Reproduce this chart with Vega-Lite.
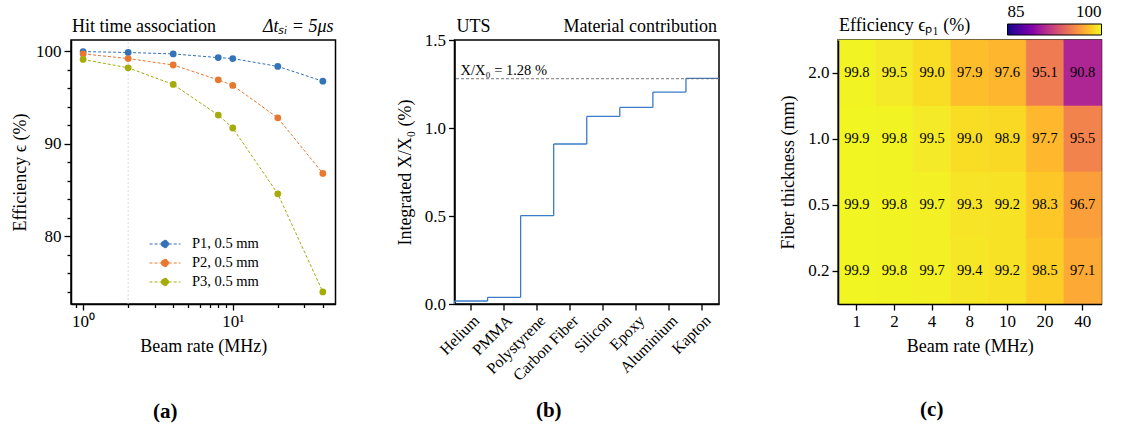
{
  "$schema": "https://vega.github.io/schema/vega-lite/v6.json",
  "background": "white",
  "padding": {"left": 10, "top": 16, "right": 5, "bottom": 2},
  "bounds": "flush",
  "spacing": 118.5,
  "resolve": {"scale": {"color": "independent"}, "legend": {"color": "independent"}},
  "config": {
    "font": "Liberation Serif",
    "view": {"stroke": "black", "strokeWidth": 1.5},
    "axis": {
      "grid": false, "domainColor": "black", "domainWidth": 1.5,
      "tickColor": "black", "tickWidth": 1.3, "tickSize": 6,
      "labelColor": "black", "titleColor": "black",
      "labelFont": "Liberation Serif", "titleFont": "Liberation Serif",
      "labelFontSize": 17, "titleFontSize": 18, "titleFontWeight": "normal",
      "labelPadding": 3, "labelFlush": false, "labelOverlap": false
    },
    "legend": {"labelFont": "Liberation Serif", "labelColor": "black"},
    "title": {"font": "Liberation Serif", "fontSize": 21, "fontWeight": "bold", "color": "black"},
    "text": {"font": "Liberation Serif", "color": "black"}
  },
  "datasets": {
    "eff": [
      {"rate": 1, "eff": 99.95, "series": "P1, 0.5 mm"},
      {"rate": 2, "eff": 99.85, "series": "P1, 0.5 mm"},
      {"rate": 4, "eff": 99.7, "series": "P1, 0.5 mm"},
      {"rate": 8, "eff": 99.3, "series": "P1, 0.5 mm"},
      {"rate": 10, "eff": 99.2, "series": "P1, 0.5 mm"},
      {"rate": 20, "eff": 98.35, "series": "P1, 0.5 mm"},
      {"rate": 40, "eff": 96.75, "series": "P1, 0.5 mm"},
      {"rate": 1, "eff": 99.7, "series": "P2, 0.5 mm"},
      {"rate": 2, "eff": 99.2, "series": "P2, 0.5 mm"},
      {"rate": 4, "eff": 98.5, "series": "P2, 0.5 mm"},
      {"rate": 8, "eff": 96.9, "series": "P2, 0.5 mm"},
      {"rate": 10, "eff": 96.3, "series": "P2, 0.5 mm"},
      {"rate": 20, "eff": 92.8, "series": "P2, 0.5 mm"},
      {"rate": 40, "eff": 86.8, "series": "P2, 0.5 mm"},
      {"rate": 1, "eff": 99.1, "series": "P3, 0.5 mm"},
      {"rate": 2, "eff": 98.2, "series": "P3, 0.5 mm"},
      {"rate": 4, "eff": 96.4, "series": "P3, 0.5 mm"},
      {"rate": 8, "eff": 93.1, "series": "P3, 0.5 mm"},
      {"rate": 10, "eff": 91.7, "series": "P3, 0.5 mm"},
      {"rate": 20, "eff": 84.6, "series": "P3, 0.5 mm"},
      {"rate": 40, "eff": 74.0, "series": "P3, 0.5 mm"}
    ],
    "xx0": [
      {"material": "Helium", "cum": 0.017, "prev": 0},
      {"material": "PMMA", "cum": 0.038, "prev": 0.017},
      {"material": "Polystyrene", "cum": 0.502, "prev": 0.038},
      {"material": "Carbon Fiber", "cum": 0.909, "prev": 0.502},
      {"material": "Silicon", "cum": 1.066, "prev": 0.909},
      {"material": "Epoxy", "cum": 1.117, "prev": 1.066},
      {"material": "Aluminium", "cum": 1.204, "prev": 1.117},
      {"material": "Kapton", "cum": 1.282, "prev": 1.204}
    ],
    "heat": [
      {"rate": 1, "thickness": "2.0", "eff": 99.8},
      {"rate": 2, "thickness": "2.0", "eff": 99.5},
      {"rate": 4, "thickness": "2.0", "eff": 99.0},
      {"rate": 8, "thickness": "2.0", "eff": 97.9},
      {"rate": 10, "thickness": "2.0", "eff": 97.6},
      {"rate": 20, "thickness": "2.0", "eff": 95.1},
      {"rate": 40, "thickness": "2.0", "eff": 90.8},
      {"rate": 1, "thickness": "1.0", "eff": 99.9},
      {"rate": 2, "thickness": "1.0", "eff": 99.8},
      {"rate": 4, "thickness": "1.0", "eff": 99.5},
      {"rate": 8, "thickness": "1.0", "eff": 99.0},
      {"rate": 10, "thickness": "1.0", "eff": 98.9},
      {"rate": 20, "thickness": "1.0", "eff": 97.7},
      {"rate": 40, "thickness": "1.0", "eff": 95.5},
      {"rate": 1, "thickness": "0.5", "eff": 99.9},
      {"rate": 2, "thickness": "0.5", "eff": 99.8},
      {"rate": 4, "thickness": "0.5", "eff": 99.7},
      {"rate": 8, "thickness": "0.5", "eff": 99.3},
      {"rate": 10, "thickness": "0.5", "eff": 99.2},
      {"rate": 20, "thickness": "0.5", "eff": 98.3},
      {"rate": 40, "thickness": "0.5", "eff": 96.7},
      {"rate": 1, "thickness": "0.2", "eff": 99.9},
      {"rate": 2, "thickness": "0.2", "eff": 99.8},
      {"rate": 4, "thickness": "0.2", "eff": 99.7},
      {"rate": 8, "thickness": "0.2", "eff": 99.4},
      {"rate": 10, "thickness": "0.2", "eff": 99.2},
      {"rate": 20, "thickness": "0.2", "eff": 98.5},
      {"rate": 40, "thickness": "0.2", "eff": 97.1}
    ]
  },
  "hconcat": [
    {
      "width": 264.5, "height": 264,
      "title": {"text": "(a)", "orient": "bottom", "anchor": "middle", "frame": "group", "dx": -38, "offset": 46},
      "encoding": {
        "x": {"field": "rate", "type": "quantitative",
          "scale": {"type": "log", "domain": [0.83, 48.6], "nice": false},
          "axis": {"title": "Beam rate (MHz)", "titlePadding": 8, "labelOverlap": false,
            "values": [0.9, 1, 2, 3, 4, 5, 6, 7, 8, 9, 10, 20, 30, 40],
            "labelExpr": "datum.value == 1 ? '10⁰' : (datum.value == 10 ? '10¹' : '')",
            "tickSize": {"condition": {"test": "datum.value == 1 || datum.value == 10", "value": 6}, "value": 3.5}}},
        "y": {"field": "eff", "type": "quantitative",
          "scale": {"domain": [72.7, 101.2], "nice": false, "zero": false},
          "axis": {"title": "Efficiency ϵ (%)", "titlePadding": 6, "labelOverlap": false,
            "values": [74, 76, 78, 80, 82, 84, 86, 88, 90, 92, 94, 96, 98, 100],
            "labelExpr": "(datum.value == 80 || datum.value == 90 || datum.value == 100) ? datum.label : ''",
            "tickSize": {"condition": {"test": "datum.value == 80 || datum.value == 90 || datum.value == 100", "value": 7}, "value": 4}}}
      },
      "layer": [
        {
          "data": {"values": [{"rate": 2, "eff": 72.7, "eff2": 101.2}]},
          "mark": {"type": "rule", "color": "#cfcfcf", "strokeWidth": 0.8, "strokeDash": [2, 2]},
          "encoding": {"y2": {"field": "eff2"}}
        },
        {
          "data": {"name": "eff"},
          "mark": {"type": "line", "strokeWidth": 1, "strokeDash": [3, 2]},
          "encoding": {
            "color": {"field": "series", "type": "nominal",
              "scale": {"domain": ["P1, 0.5 mm", "P2, 0.5 mm", "P3, 0.5 mm"], "range": ["#3473b7", "#e87730", "#a4ab0a"]},
              "legend": {"orient": "none", "legendX": 83, "legendY": 193, "title": null, "padding": 0,
                "labelFontSize": 14.5, "labelOffset": 16, "rowPadding": 1,
                "symbolType": "M-1.5,0H-0.36M0.36,0H1.5M-0.36,0A0.36,0.36,0,1,0,0.36,0A0.36,0.36,0,1,0,-0.36,0",
                "symbolSize": 425, "symbolStrokeWidth": 1, "symbolDash": [3, 2]}}
          }
        },
        {
          "data": {"name": "eff"},
          "mark": {"type": "point", "filled": true, "size": 46, "opacity": 1},
          "encoding": {"color": {"field": "series", "type": "nominal"}}
        },
        {
          "data": {"values": [{"note": "Hit time association", "rate": 0.83, "eff": 101.2}]},
          "mark": {"type": "text", "align": "left", "baseline": "alphabetic", "dx": 1, "dy": -8, "fontSize": 18},
          "encoding": {"text": {"field": "note"}}
        },
        {
          "data": {"values": [{"note": "Δtₛᵢ = 5μs", "rate": 48.6, "eff": 101.2}]},
          "mark": {"type": "text", "align": "right", "baseline": "alphabetic", "dy": -8, "dx": -2, "fontSize": 18, "fontStyle": "italic"},
          "encoding": {"text": {"field": "note"}}
        }
      ]
    },
    {
      "width": 264.5, "height": 264,
      "title": {"text": "(b)", "orient": "bottom", "anchor": "middle", "frame": "group", "dx": -38, "offset": 17},
      "layer": [
        {
          "data": {"name": "xx0"},
          "mark": {"type": "bar", "fill": "transparent", "stroke": "#3a7cc7", "strokeWidth": 1.3},
          "encoding": {
            "x": {"field": "material", "type": "nominal",
              "sort": ["Helium", "PMMA", "Polystyrene", "Carbon Fiber", "Silicon", "Epoxy", "Aluminium", "Kapton"],
              "scale": {"paddingInner": 0, "paddingOuter": 0},
              "axis": {"title": null, "labelAngle": -45, "labelFontSize": 16, "labelPadding": 2}},
            "y": {"field": "cum", "type": "quantitative",
              "scale": {"domain": [0, 1.5], "nice": false},
              "axis": {"title": "Integrated X/X₀ (%)", "values": [0, 0.5, 1, 1.5], "format": ".1f", "titlePadding": 10}},
            "y2": {"field": "cum"}
          }
        },
        {
          "data": {"name": "xx0"},
          "mark": {"type": "rule", "color": "#3a7cc7", "strokeWidth": 1.3},
          "encoding": {
            "x": {"field": "material", "type": "nominal", "bandPosition": 0,
              "sort": ["Helium", "PMMA", "Polystyrene", "Carbon Fiber", "Silicon", "Epoxy", "Aluminium", "Kapton"]},
            "y": {"field": "prev", "type": "quantitative"},
            "y2": {"field": "cum"}
          }
        },
        {
          "data": {"values": [{"total": 1.28}]},
          "mark": {"type": "rule", "color": "#666666", "strokeWidth": 0.9, "strokeDash": [3, 2]},
          "encoding": {"y": {"field": "total", "type": "quantitative"}}
        },
        {
          "data": {"values": [{"note": "X/X₀ = 1.28 %", "material": "Helium", "total": 1.28}]},
          "mark": {"type": "text", "align": "left", "baseline": "alphabetic", "dx": 6, "dy": -4, "fontSize": 14.5},
          "encoding": {
            "x": {"field": "material", "type": "nominal", "bandPosition": 0,
              "sort": ["Helium", "PMMA", "Polystyrene", "Carbon Fiber", "Silicon", "Epoxy", "Aluminium", "Kapton"]},
            "y": {"field": "total", "type": "quantitative"},
            "text": {"field": "note"}
          }
        },
        {
          "data": {"values": [{"note": "UTS", "material": "Helium", "cum": 1.5}]},
          "mark": {"type": "text", "align": "left", "baseline": "alphabetic", "dx": 2, "dy": -8, "fontSize": 18},
          "encoding": {
            "x": {"field": "material", "type": "nominal", "bandPosition": 0,
              "sort": ["Helium", "PMMA", "Polystyrene", "Carbon Fiber", "Silicon", "Epoxy", "Aluminium", "Kapton"]},
            "y": {"field": "cum", "type": "quantitative"},
            "text": {"field": "note"}
          }
        },
        {
          "data": {"values": [{"note": "Material contribution", "material": "Kapton", "cum": 1.5}]},
          "mark": {"type": "text", "align": "right", "baseline": "alphabetic", "dx": -2, "dy": -8, "fontSize": 18},
          "encoding": {
            "x": {"field": "material", "type": "nominal", "bandPosition": 1,
              "sort": ["Helium", "PMMA", "Polystyrene", "Carbon Fiber", "Silicon", "Epoxy", "Aluminium", "Kapton"]},
            "y": {"field": "cum", "type": "quantitative"},
            "text": {"field": "note"}
          }
        }
      ]
    },
    {
      "width": 263.5, "height": 264,
      "title": {"text": "(c)", "orient": "bottom", "anchor": "middle", "frame": "group", "dx": -38, "offset": 44},
      "layer": [
        {
          "data": {"name": "heat"},
          "mark": {"type": "rect", "strokeWidth": 0.6},
          "encoding": {
            "x": {"field": "rate", "type": "ordinal",
              "scale": {"paddingInner": 0, "paddingOuter": 0},
              "axis": {"title": "Beam rate (MHz)", "labelAngle": 0, "titlePadding": 8}},
            "y": {"field": "thickness", "type": "ordinal", "sort": ["2.0", "1.0", "0.5", "0.2"],
              "scale": {"paddingInner": 0, "paddingOuter": 0},
              "axis": {"title": "Fiber thickness (mm)", "titlePadding": 10}},
            "color": {"field": "eff", "type": "quantitative",
              "scale": {"scheme": "plasma", "domain": [85, 100]},
              "legend": {"orient": "none", "direction": "horizontal", "legendX": 169.5, "legendY": -16,
                "title": null, "padding": 0, "gradientLength": 94, "gradientThickness": 11,
                "values": [85, 100], "labelOffset": -31, "labelAlign": "center",
                "labelFontSize": 17, "gradientStrokeColor": "black", "gradientStrokeWidth": 1}},
            "stroke": {"field": "eff", "type": "quantitative",
              "scale": {"scheme": "plasma", "domain": [85, 100]}, "legend": null}
          }
        },
        {
          "data": {"name": "heat"},
          "mark": {"type": "text", "fontSize": 14.5},
          "encoding": {
            "x": {"field": "rate", "type": "ordinal"},
            "y": {"field": "thickness", "type": "ordinal", "sort": ["2.0", "1.0", "0.5", "0.2"]},
            "text": {"field": "eff", "type": "quantitative", "format": ".1f"}
          }
        },
        {
          "data": {"values": [{"note": "Efficiency ϵₚ₁ (%)", "rate": 1, "thickness": "2.0"}]},
          "mark": {"type": "text", "align": "left", "baseline": "alphabetic", "dx": 1, "dy": -9, "fontSize": 18},
          "encoding": {
            "x": {"field": "rate", "type": "ordinal", "bandPosition": 0},
            "y": {"field": "thickness", "type": "ordinal", "bandPosition": 0, "sort": ["2.0", "1.0", "0.5", "0.2"]},
            "text": {"field": "note"}
          }
        }
      ]
    }
  ]
}
